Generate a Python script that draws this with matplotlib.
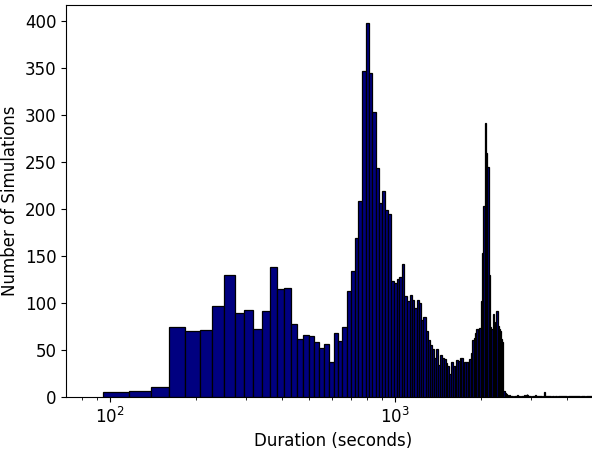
import numpy as np
import matplotlib
matplotlib.use("Agg")
import matplotlib.pyplot as plt

plt.rcParams['font.family'] = ['DejaVu Sans']
plt.rcParams['font.size'] = 12

# histogram binning (linear bins, shown on a log axis)
bin_start = 94.3
bin_width = 22.4

# simulations per bin
counts = [
    5, 6, 11, 74, 70, 71, 97, 130, 89, 93,            # k 0-9
    72, 91, 138, 115, 116, 78, 62, 66, 65, 58,        # k 10-19
    52, 56, 37, 68, 60, 74, 113, 134, 169, 208,       # k 20-29
    347, 398, 345, 303, 244, 206, 219, 199, 195, 123, # k 30-39
    121, 126, 128, 141, 107, 102, 109, 103, 95, 103,  # k 40-49
    100, 82, 85, 70, 61, 55, 51, 41, 51, 34,          # k 50-59
    45, 42, 40, 36, 33, 25, 37, 33, 33, 39,           # k 60-69
    38, 41, 41, 33, 37, 37, 37, 40, 47, 61,           # k 70-79
    63, 68, 72, 72, 73, 102, 153, 203, 291, 260,      # k 80-89
    245, 130, 75, 72, 88, 80, 75, 91, 76, 72,         # k 90-99
    70, 62, 58, 6, 4, 3, 2, 1, 2, 1,                  # k 100-109
    1, 1, 0, 1, 1, 2, 1, 1, 0, 1,                     # k 110-119
    1, 1, 2, 1, 2, 3, 2, 1, 1, 1,                     # k 120-129
    0, 1, 1, 1, 2, 1, 1, 0, 1, 1,                     # k 130-139
    1, 1, 0, 1, 1, 5, 1, 1, 1, 0,                     # k 140-149
    1, 1, 1, 0, 1, 1, 1, 0, 1, 1,                     # k 150-159
    1, 0, 1, 1, 1, 1, 0, 1, 1, 1,                     # k 160-169
    0, 1, 1, 1, 1, 0, 1, 1, 1, 1,                     # k 170-179
    1, 1, 0, 1, 1, 1, 1, 1, 0, 1,                     # k 180-189
    1, 1, 1, 1, 1, 0, 1, 1, 1, 1,                     # k 190-199
    1, 1, 1, 0, 1, 1, 1, 1, 1, 1,                     # k 200-209
    1, 1, 1, 1, 1, 1, 1, 1,                           # k 210-217
]

counts = np.array(counts)
edges = bin_start + bin_width * np.arange(len(counts) + 1)

fig = plt.figure(figsize=(5.92, 4.51), dpi=100)
ax = fig.add_axes([0.1115, 0.1197, 0.902, 0.8692])

ax.bar(edges[:-1], counts, width=np.diff(edges), align='edge',
       color='navy', edgecolor='black', linewidth=0.9)

ax.set_xscale('log')
ax.set_xlim(70.1, 5240)
ax.set_ylim(0, 417)
ax.set_yticks(np.arange(0, 401, 50))

ax.set_xlabel('Duration (seconds)')
ax.set_ylabel('Number of Simulations')

fig.savefig('out.png', dpi=100)
